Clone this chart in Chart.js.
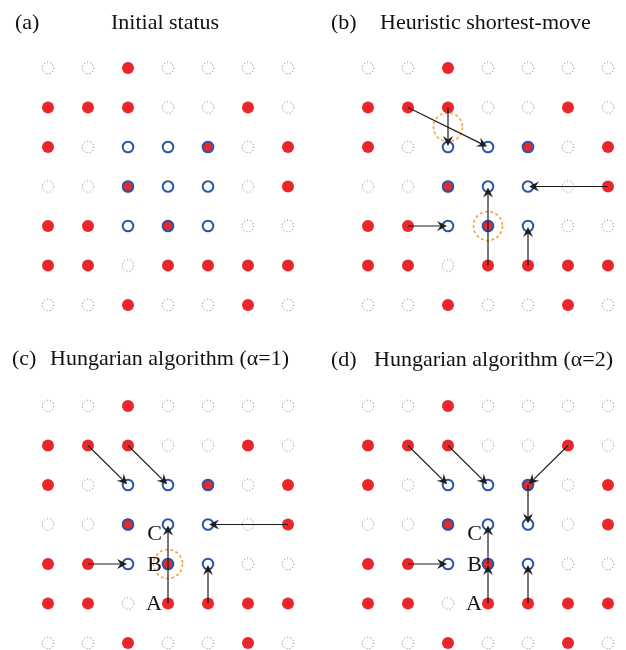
<!DOCTYPE html>
<html>
<head>
<meta charset="utf-8">
<script src="https://cdn.jsdelivr.net/npm/chart.js@4.4.0/dist/chart.umd.min.js"></script>
<style>
  body { margin: 0; background: #fff; }
  #wrap { position: relative; width: 626px; height: 650px; overflow: hidden; }
  #wrap canvas { position: absolute; }
</style>
</head>
<body>
<div id="wrap">
  <canvas id="pa" width="320" height="338" style="left:0;top:0"></canvas>
  <canvas id="pb" width="306" height="338" style="left:320px;top:0"></canvas>
  <canvas id="pc" width="320" height="312" style="left:0;top:338px"></canvas>
  <canvas id="pd" width="306" height="312" style="left:320px;top:338px"></canvas>
</div>
<script>
// lattice: column 0..6 left to right, row 0..6 top to bottom
const cols = [0, 1, 2, 3, 4, 5, 6];
const rows = [0, 1, 2, 3, 4, 5, 6];

// occupied sites [col, row]
const particles = [
  [2, 0],
  [0, 1], [1, 1], [2, 1], [5, 1],
  [0, 2], [4, 2], [6, 2],
  [2, 3], [6, 3],
  [0, 4], [1, 4], [3, 4],
  [0, 5], [1, 5], [3, 5], [4, 5], [5, 5], [6, 5],
  [2, 6], [5, 6]
];

// target 3x3 block [col, row]
const targets = [
  [2, 2], [3, 2], [4, 2],
  [2, 3], [3, 3], [4, 3],
  [2, 4], [3, 4], [4, 4]
];

// moves [fromCol, fromRow, toCol, toRow]
const movesA = [];
const movesB = [[1, 1, 3, 2], [2, 1, 2, 2], [6, 3, 4, 3], [1, 4, 2, 4], [3, 5, 3, 3], [4, 5, 4, 4]];
const movesC = [[1, 1, 2, 2], [2, 1, 3, 2], [6, 3, 4, 3], [1, 4, 2, 4], [3, 5, 3, 3], [4, 5, 4, 4]];
const movesD = [[1, 1, 2, 2], [2, 1, 3, 2], [5, 1, 4, 2], [4, 2, 4, 3], [1, 4, 2, 4], [3, 5, 3, 4], [3, 4, 3, 3], [4, 5, 4, 4]];

// collision spots (orange dashed rings)
const conflictsA = [];
const conflictsB = [[2, 1.5], [3, 4]];
const conflictsC = [[3, 4]];
const conflictsD = [];

const pathLabels = ['A', 'B', 'C'];
const pathSites = [[3, 5], [3, 4], [3, 3]];

const panelTags = ['(a)', '(b)', '(c)', '(d)'];
const panelTitles = ['Initial status', 'Heuristic shortest-move', 'Hungarian algorithm (\u03b1=1)', 'Hungarian algorithm (\u03b1=2)'];

const RED = '#e9272b';
const BLUE = '#2a56a6';
const FONT = '22px "Liberation Serif", "Times New Roman", serif';

function key(p) { return p[0] + ',' + p[1]; }
const used = new Set(particles.concat(targets).map(key));
const empties = [];
rows.forEach(r => cols.forEach(c => { if (!used.has(key([c, r]))) empties.push([c, r]); }));

function toPts(list) { return list.map(p => ({ x: p[0], y: p[1] })); }

// small dotted ring for an empty site
function dottedRing() {
  const c = document.createElement('canvas');
  c.width = 16; c.height = 16;
  const g = c.getContext('2d');
  g.strokeStyle = '#808080';
  g.lineWidth = 1;
  g.setLineDash([1.2, 2]);
  g.beginPath(); g.arc(8, 8, 5.8, 0, Math.PI * 2); g.stroke();
  return c;
}

// orange dashed ring for a conflict
function dashedRing() {
  const c = document.createElement('canvas');
  c.width = 36; c.height = 36;
  const g = c.getContext('2d');
  g.strokeStyle = '#f4a040';
  g.lineWidth = 1.6;
  g.setLineDash([3, 2.4]);
  g.beginPath(); g.arc(18, 18, 14.5, 0, Math.PI * 2); g.stroke();
  return c;
}

const emptyImg = dottedRing();
const ringImg = dashedRing();

function drawArrow(ctx, x1, y1, x2, y2) {
  const a = Math.atan2(y2 - y1, x2 - x1);
  const ca = Math.cos(a), sa = Math.sin(a);
  const tx = x2 - ca * 1, ty = y2 - sa * 1;
  ctx.beginPath();
  ctx.moveTo(x1, y1);
  ctx.lineTo(tx - ca * 6, ty - sa * 6);
  ctx.stroke();
  ctx.save();
  ctx.translate(tx, ty);
  ctx.rotate(a);
  ctx.beginPath();
  ctx.moveTo(0, 0);
  ctx.lineTo(-10, -5);
  ctx.lineTo(-6.5, 0);
  ctx.lineTo(-10, 5);
  ctx.closePath();
  ctx.fill();
  ctx.restore();
}

function makePanel(id, idx, moves, conflicts, withLabels, layout) {
  const canvas = document.getElementById(id);
  const w = canvas.width, h = canvas.height;

  const panelPlugin = {
    id: 'panel' + idx,
    afterDatasetsDraw(chart) {
      const ctx = chart.ctx;
      const xs = chart.scales.x, ys = chart.scales.y;
      ctx.save();
      ctx.strokeStyle = '#1e1e1e';
      ctx.fillStyle = '#1e1e1e';
      ctx.lineWidth = 1.2;
      moves.forEach(m => {
        drawArrow(ctx, xs.getPixelForValue(m[0]), ys.getPixelForValue(m[1]),
                  xs.getPixelForValue(m[2]), ys.getPixelForValue(m[3]));
      });
      if (withLabels) {
        ctx.font = FONT;
        ctx.fillStyle = '#111';
        ctx.textAlign = 'right';
        ctx.textBaseline = 'middle';
        pathLabels.forEach((t, i) => {
          const dy = t === 'C' ? 10 : 1;
          ctx.fillText(t, xs.getPixelForValue(pathSites[i][0]) - 6, ys.getPixelForValue(pathSites[i][1]) + dy);
        });
      }
      ctx.restore();
    },
    afterDraw(chart) {
      const ctx = chart.ctx;
      ctx.save();
      ctx.font = FONT;
      ctx.fillStyle = '#111';
      ctx.textBaseline = 'alphabetic';
      ctx.textAlign = 'left';
      ctx.fillText(panelTags[idx], layout.tagX, layout.baseY);
      ctx.fillText(panelTitles[idx], layout.titleX, layout.baseY);
      ctx.restore();
    }
  };

  return new Chart(canvas, {
    type: 'scatter',
    data: {
      datasets: [
        {
          data: toPts(targets), order: 0, clip: false,
          pointStyle: 'circle', pointRadius: 5.3, pointBorderWidth: 2,
          pointBackgroundColor: 'rgba(0,0,0,0)', pointBorderColor: BLUE
        },
        {
          data: toPts(particles), order: 1, clip: false,
          pointStyle: 'circle', pointRadius: 6, pointBorderWidth: 0,
          pointBackgroundColor: RED, pointBorderColor: RED
        },
        {
          data: toPts(conflicts), order: 2, clip: false,
          pointStyle: ringImg, pointRadius: 15
        },
        {
          data: toPts(empties), order: 3, clip: false,
          pointStyle: emptyImg, pointRadius: 6
        }
      ]
    },
    options: {
      responsive: false,
      animation: false,
      events: [],
      layout: {
        autoPadding: false,
        padding: { left: 48, right: w - 288, top: 68, bottom: h - 305 }
      },
      scales: {
        x: { type: 'linear', display: false, min: 0, max: 6 },
        y: { type: 'linear', display: false, min: 0, max: 6, reverse: true }
      },
      plugins: { legend: { display: false }, tooltip: { enabled: false } }
    },
    plugins: [panelPlugin]
  });
}

makePanel('pa', 0, movesA, conflictsA, false, { tagX: 15, titleX: 111, baseY: 29 });
makePanel('pb', 1, movesB, conflictsB, false, { tagX: 11, titleX: 60, baseY: 29 });
makePanel('pc', 2, movesC, conflictsC, true, { tagX: 12, titleX: 50, baseY: 27 });
makePanel('pd', 3, movesD, conflictsD, true, { tagX: 11, titleX: 54, baseY: 28 });
</script>
</body>
</html>
